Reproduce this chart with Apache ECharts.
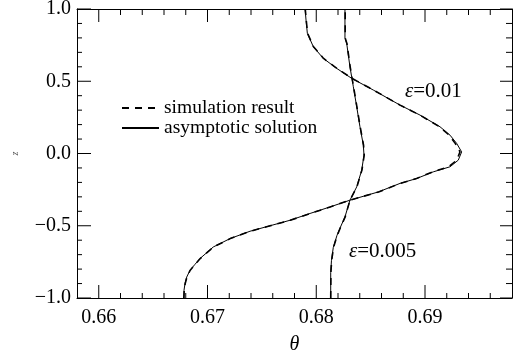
<!DOCTYPE html>
<html><head><meta charset="utf-8">
<script src="https://cdn.jsdelivr.net/npm/echarts@6/dist/echarts.min.js"></script>
<style>html,body{margin:0;padding:0;background:#fff}#c{width:514px;height:356px}</style>
</head><body><div id="c"></div>
<script>
// axis ranges and ticks
const thetaRange = [0.658, 0.698];
const zRange = [-1, 1];
const thetaMajorTicks = [0.66, 0.67, 0.68, 0.69];
const thetaMinorTicks = [0.662,0.664,0.666,0.668,0.672,0.674,0.676,0.678,0.682,0.684,0.686,0.688,0.692,0.694,0.696];
const zMajorTicks = [-1, -0.5, 0, 0.5, 1];
const zMinorTicks = [-0.9,-0.8,-0.7,-0.6,-0.4,-0.3,-0.2,-0.1,0.1,0.2,0.3,0.4,0.6,0.7,0.8,0.9];

// epsilon = 0.01
const zWide = [-1.000,-0.947,-0.900,-0.855,-0.808,-0.767,-0.727,-0.647,-0.589,-0.538,-0.500,-0.462,-0.415,-0.370,-0.323,-0.266,-0.207,-0.173,-0.127,-0.092,-0.046,0.011,0.070,0.127,0.185,0.266,0.335,0.439,0.520,0.589,0.658,0.739,0.832,0.924,1.000];
const thetaWideAsym = [0.66784,0.66784,0.66793,0.66809,0.66839,0.66885,0.66931,0.67053,0.67207,0.67391,0.67575,0.67759,0.67943,0.68126,0.68310,0.68571,0.68770,0.68924,0.69076,0.69230,0.69306,0.69337,0.69291,0.69230,0.69138,0.68954,0.68770,0.68525,0.68326,0.68188,0.68065,0.67973,0.67918,0.67906,0.67897];
const thetaWideSim  = [0.66782,0.66786,0.66795,0.66811,0.66841,0.66887,0.66933,0.67055,0.67209,0.67393,0.67577,0.67761,0.67945,0.68128,0.68310,0.68573,0.68772,0.68922,0.69070,0.69218,0.69292,0.69322,0.69278,0.69222,0.69134,0.68952,0.68770,0.68527,0.68328,0.68190,0.68067,0.67975,0.67920,0.67908,0.67899];

// epsilon = 0.005
const zNarrow = [-1.000,-0.822,-0.739,-0.649,-0.566,-0.517,-0.439,-0.323,-0.231,-0.115,-0.011,0.058,0.185,0.323,0.462,0.600,0.762,0.799,1.000];
const thetaNarrowAsym = [0.68133,0.68133,0.68140,0.68157,0.68191,0.68218,0.68264,0.68310,0.68372,0.68418,0.68439,0.68433,0.68402,0.68372,0.68341,0.68310,0.68280,0.68264,0.68264];
const thetaNarrowSim  = [0.68133,0.68135,0.68142,0.68159,0.68193,0.68220,0.68266,0.68310,0.68374,0.68420,0.68441,0.68435,0.68404,0.68374,0.68343,0.68312,0.68282,0.68266,0.68266];

const FONT = 'Liberation Serif';
const black = '#000';
const zip = (t, z) => t.map((v, i) => [v, z[i]]);
const fmtTheta = v => v.toFixed(2);
const fmtZ = v => (v < -1e-9 ? '\u2212' : '') + Math.abs(v).toFixed(1);

// plot frame in pixels
const G = {left: 77, right: 2, top: 9, bottom: 58};
const plotW = 514 - G.left - G.right, plotH = 356 - G.top - G.bottom;
const pxPerTheta = plotW / (thetaRange[1] - thetaRange[0]);
const pxPerZ = plotH / (zRange[1] - zRange[0]);

// inward tick marks, as short segments in data space (pixel lengths converted through the axis scale)
function xTickSegs(ticks, lenPx, atTop) {
  const d = lenPx / pxPerZ;
  const out = [];
  ticks.forEach(v => {
    if (atTop) { out.push([v, zRange[1]], [v, zRange[1] - d]); }
    else { out.push([v, zRange[0]], [v, zRange[0] + d]); }
    out.push(['-', '-']);
  });
  return out;
}
function zTickSegs(ticks, lenPx, atRight) {
  const d = lenPx / pxPerTheta;
  const out = [];
  ticks.forEach(v => {
    if (atRight) { out.push([thetaRange[1], v], [thetaRange[1] - d, v]); }
    else { out.push([thetaRange[0], v], [thetaRange[0] + d, v]); }
    out.push(['-', '-']);
  });
  return out;
}
const tickSeries = (name, data) => ({
  name: name, type: 'line', data: data, symbol: 'none', showSymbol: false, silent: true,
  connectNulls: false, clip: false, z: 6, lineStyle: {color: black, width: 1, type: 'solid'}, itemStyle: {color: black}
});

const chart = echarts.init(document.getElementById('c'), null, {renderer: 'canvas'});
const frameLine = {show: true, onZero: false, lineStyle: {color: black, width: 1}};

const option = {
  animation: false,
  backgroundColor: '#fff',
  grid: {left: G.left, right: G.right, top: G.top, bottom: G.bottom, outerBoundsMode: 'none', containLabel: false},
  xAxis: [
    {type: 'value', position: 'bottom', min: thetaRange[0], max: thetaRange[1],
      axisLine: frameLine, axisTick: {show: false}, splitLine: {show: false},
      axisLabel: {show: true, customValues: thetaMajorTicks, formatter: fmtTheta, color: black, fontFamily: FONT, fontSize: 20, margin: 10},
      name: 'θ', nameLocation: 'middle', nameGap: 37,
      nameTextStyle: {fontFamily: FONT, fontStyle: 'italic', fontSize: 20, color: black}},
    {type: 'value', position: 'top', min: thetaRange[0], max: thetaRange[1],
      axisLine: frameLine, axisTick: {show: false}, axisLabel: {show: false}, splitLine: {show: false}}
  ],
  yAxis: [
    {type: 'value', position: 'left', min: zRange[0], max: zRange[1],
      axisLine: frameLine, axisTick: {show: false}, splitLine: {show: false},
      axisLabel: {show: true, customValues: zMajorTicks, formatter: fmtZ, color: black, fontFamily: FONT, fontSize: 20, margin: 6},
      name: 'z', nameLocation: 'middle', nameGap: 57, nameRotate: 90,
      nameTextStyle: {fontFamily: FONT, fontStyle: 'italic', fontSize: 10, color: '#555'}},
    {type: 'value', position: 'right', min: zRange[0], max: zRange[1],
      axisLine: frameLine, axisTick: {show: false}, axisLabel: {show: false}, splitLine: {show: false}}
  ],
  legend: {
    orient: 'vertical', left: 116, top: 93,
    itemWidth: 37, itemHeight: 12, itemGap: 0,
    data: ['simulation result', 'asymptotic solution'],
    itemStyle: {opacity: 0},
    textStyle: {fontFamily: FONT, fontSize: 19.5, color: black},
    selectedMode: false
  },
  graphic: [
    {type: 'text', left: 405, top: 80.5, z: 100, style: {text: '{e|ε}=0.01', fill: black, font: '21px "Liberation Serif"',
      rich: {e: {fontStyle: 'italic', fontFamily: FONT, fontSize: 21, fill: black}}}},
    {type: 'text', left: 349, top: 241, z: 100, style: {text: '{e|ε}=0.005', fill: black, font: '21px "Liberation Serif"',
      rich: {e: {fontStyle: 'italic', fontFamily: FONT, fontSize: 21, fill: black}}}}
  ],
  series: [
    {name: 'simulation result', type: 'line', data: zip(thetaWideSim, zWide), symbol: 'none', showSymbol: false,
      lineStyle: {color: black, width: 1.6, type: [7, 6]}, itemStyle: {color: black}, z: 3},
    {name: 'asymptotic solution', type: 'line', data: zip(thetaWideAsym, zWide), symbol: 'none', showSymbol: false,
      lineStyle: {color: black, width: 1, type: 'solid'}, itemStyle: {color: black}, z: 4},
    {name: 'simulation result', type: 'line', data: zip(thetaNarrowSim, zNarrow), symbol: 'none', showSymbol: false,
      lineStyle: {color: black, width: 1.6, type: [7, 6]}, itemStyle: {color: black}, z: 3},
    {name: 'asymptotic solution', type: 'line', data: zip(thetaNarrowAsym, zNarrow), symbol: 'none', showSymbol: false,
      lineStyle: {color: black, width: 1, type: 'solid'}, itemStyle: {color: black}, z: 4},
    tickSeries('ticks bottom major', xTickSegs(thetaMajorTicks, 13, false)),
    tickSeries('ticks bottom minor', xTickSegs(thetaMinorTicks, 5, false)),
    tickSeries('ticks top major', xTickSegs(thetaMajorTicks, 13, true)),
    tickSeries('ticks top minor', xTickSegs(thetaMinorTicks, 6, true)),
    tickSeries('ticks left major', zTickSegs(zMajorTicks, 14, false)),
    tickSeries('ticks left minor', zTickSegs(zMinorTicks, 5, false)),
    tickSeries('ticks right major', zTickSegs(zMajorTicks, 12, true)),
    tickSeries('ticks right minor', zTickSegs(zMinorTicks, 6, true))
  ]
};
chart.setOption(option);
</script>
</body></html>
